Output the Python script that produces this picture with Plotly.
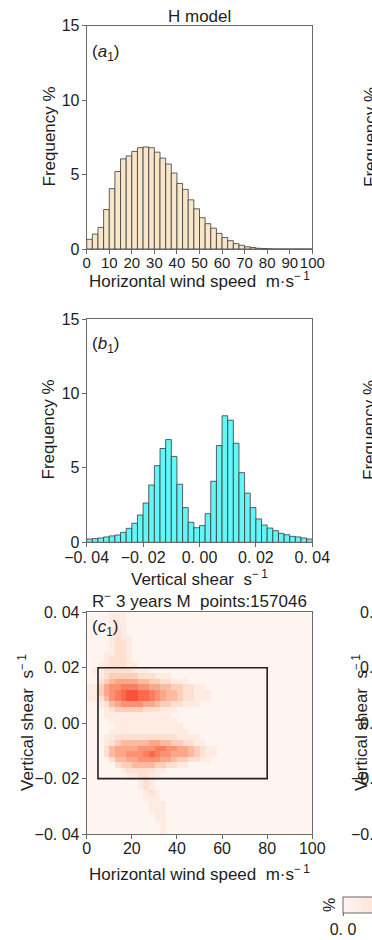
import plotly.graph_objects as go

W, H = 372, 940

# ---------------- data ----------------
# (a1) horizontal wind speed histogram, 40 bins of 2.5 m/s from 0 to 100
A_BIN_WIDTH = 2.5
A_FREQ = [0.65, 1.0, 1.45, 2.65, 4.05, 5.2, 6.05, 6.25, 6.55, 6.8,
          6.85, 6.8, 6.5, 6.1, 5.7, 5.1, 4.4, 4.0, 3.3, 2.7,
          2.1, 1.7, 1.4, 1.05, 0.77, 0.56, 0.36, 0.25, 0.15, 0.1,
          0.05, 0.03, 0.01, 0.0, 0.0, 0.0, 0.0, 0.0, 0.0, 0.0]
A_XTICKS = [0, 10, 20, 30, 40, 50, 60, 70, 80, 90, 100]
A_YTICKS = [0, 5, 10, 15]

# (b1) vertical shear histogram, 40 bins of 0.002 s^-1 from -0.04 to 0.04
B_BIN_WIDTH = 0.002
B_FREQ = [0.22, 0.25, 0.29, 0.36, 0.43, 0.49, 0.67, 0.94, 1.28, 1.83,
          2.64, 3.85, 5.15, 6.3, 6.9, 5.77, 3.9, 2.33, 1.34, 0.98,
          1.12, 1.92, 4.1, 6.5, 8.5, 8.2, 6.65, 4.68, 3.3, 2.33,
          1.57, 1.16, 0.96, 0.78, 0.6, 0.51, 0.4, 0.36, 0.29, 0.22]
B_XTICKS = [-0.04, -0.02, 0.0, 0.02, 0.04]
B_XTICKTEXT = ["\u22120. 04", "\u22120. 02", "0. 00", "0. 02", "0. 04"]

# (c1) joint frequency, 40 x 40 grid (x: 2.5 m/s bins, y: 0.002 s^-1 bins)
C_ROWS = [
    "0000111000000000000000000000000000000000",
    "0000111000000000000000000000000000000000",
    "0000111000000000000000000000000000000000",
    "0000121000000000000000000000000000000000",
    "0000121100000000000000000000000000000000",
    "0000122100000000000000000000000000000000",
    "0000122100000000000000000000000000000000",
    "0001122100000000000000000000000000000000",
    "0001222100000000000000000000000000000000",
    "0011222110000000000000000000000000000000",
    "0112222211100000000000000000000000000000",
    "0012333332221110000000000000000000000000",
    "0023455554433221110000000000000000000000",
    "1135667776655443322110000000000000000000",
    "1135678998876544322111000000000000000000",
    "1124678998876544322111000000000000000000",
    "0012456666554332211100000000000000000000",
    "0001233333222111000000000000000000000000",
    "0001111111111110000000000000000000000000",
    "0000111111111111000000000000000000000000",
    "0000011111111111100000000000000000000000",
    "0000111111111111110000000000000000000000",
    "0001122222222222111100000000000000000000",
    "0001234444455443322110000000000000000000",
    "0002455556667766554321100000000000000000",
    "0002455666787665554321100000000000000000",
    "0000244556666554332211000000000000000000",
    "0000023344443322110000000000000000000000",
    "0000001222221100000000000000000000000000",
    "0000000112211000000000000000000000000000",
    "0000000001210000000000000000000000000000",
    "0000000001210000000000000000000000000000",
    "0000000000121000000000000000000000000000",
    "0000000000111000000000000000000000000000",
    "0000000000011100000000000000000000000000",
    "0000000000011100000000000000000000000000",
    "0000000000001100000000000000000000000000",
    "0000000000001100000000000000000000000000",
    "0000000000000100000000000000000000000000",
    "0000000000000100000000000000000000000000",
]
C_XTICKS = [0, 20, 40, 60, 80, 100]
C_YTICKS = [-0.04, -0.02, 0.0, 0.02, 0.04]
C_YTICKTEXT = ["\u22120. 04", "\u22120. 02", "0. 00", "0. 02", "0. 04"]
C_BOX = [5, 80, -0.02, 0.02]  # x0, x1, y0, y1 of the outlined region
C_TITLE = "R<sup>\u2212</sup> 3 years M\u00a0\u00a0points:157046"

# ---------------- derived grids ----------------
N = 40
a_centers = [A_BIN_WIDTH * (i + 0.5) for i in range(N)]
b_centers = [-0.04 + B_BIN_WIDTH * (i + 0.5) for i in range(N)]
c_x = [2.5 * (i + 0.5) for i in range(N)]
c_y = [-0.04 + 0.002 * (j + 0.5) for j in range(N)]
c_z = [[int(ch) for ch in row.ljust(N, "0")[:N]] for row in reversed(C_ROWS)]

# ---------------- style ----------------
FONT = "Liberation Sans, Arial, sans-serif"
TXT = "#1e1e1e"
FRAME = "#6a6a6a"
EDGE = "#3a3a3a"
A_COLOR = "#f8e6c8"
B_COLOR = "#62f6f6"
REDS = [[0.0, "#fff5f0"], [0.125, "#fee0d2"], [0.25, "#fcbba1"], [0.375, "#fc9272"],
        [0.5, "#fb6a4a"], [0.625, "#ef3b2c"], [0.75, "#cb181d"], [0.875, "#a50f15"],
        [1.0, "#67000d"]]
FS = 17
TFS = 16


def fx(p):
    return p / W


def fy(p):
    return 1 - p / H


fig = go.Figure()
fig.add_trace(go.Bar(x=a_centers, y=A_FREQ, width=A_BIN_WIDTH,
                     marker=dict(color=A_COLOR, line=dict(color=EDGE, width=0.8)),
                     xaxis="x", yaxis="y", showlegend=False, hoverinfo="skip"))
fig.add_trace(go.Bar(x=b_centers, y=B_FREQ, width=B_BIN_WIDTH,
                     marker=dict(color=B_COLOR, line=dict(color=EDGE, width=0.8)),
                     xaxis="x2", yaxis="y2", showlegend=False, hoverinfo="skip"))
fig.add_trace(go.Heatmap(
    x=c_x, y=c_y, z=c_z, colorscale=REDS, zmin=0, zmax=16,
    xaxis="x3", yaxis="y3", hoverinfo="skip",
    colorbar=dict(orientation="h", x=fx(343), xanchor="left", y=fy(897), yanchor="top",
                  thickness=16, thicknessmode="pixels", len=300, lenmode="pixels",
                  xpad=0, ypad=0, outlinecolor=FRAME, outlinewidth=1,
                  tickvals=[0], ticktext=["0. 0"], ticks="outside", ticklen=3,
                  tickcolor=FRAME, tickfont=dict(size=TFS, color=TXT, family=FONT)),
))

common = dict(showline=True, mirror=True, linecolor=FRAME, linewidth=1,
              ticks="outside", ticklen=4, tickcolor=FRAME, tickwidth=1,
              showgrid=False, zeroline=False, fixedrange=True, tickangle=0,
              tickfont=dict(size=TFS, color=TXT, family=FONT))
xcommon = dict(common, ticklabelstandoff=-4)
ycommon = dict(common, ticklabelstandoff=-1)
xcommon_a = dict(xcommon, tickfont=dict(size=15, color=TXT, family=FONT))

XD = [fx(86.7), fx(312.3)]
fig.update_layout(
    width=W, height=H,
    margin=dict(l=0, r=0, t=0, b=0, autoexpand=False),
    paper_bgcolor="white", plot_bgcolor="white",
    font=dict(family=FONT, size=FS, color=TXT),
    barmode="overlay", showlegend=False,
    xaxis=dict(domain=XD, range=[0, 100], tickvals=A_XTICKS,
               ticktext=[str(v) for v in A_XTICKS], anchor="y", **xcommon_a),
    yaxis=dict(domain=[fy(249), fy(25.5)], range=[0, 15], tickvals=A_YTICKS,
               ticktext=[str(v) for v in A_YTICKS], anchor="x", **ycommon),
    xaxis2=dict(domain=XD, range=[-0.04, 0.04], tickvals=B_XTICKS,
                ticktext=B_XTICKTEXT, anchor="y2", **xcommon),
    yaxis2=dict(domain=[fy(542.3), fy(319)], range=[0, 15], tickvals=A_YTICKS,
                ticktext=[str(v) for v in A_YTICKS], anchor="x2", **ycommon),
    xaxis3=dict(domain=XD, range=[0, 100], tickvals=C_XTICKS,
                ticktext=[str(v) for v in C_XTICKS], anchor="y3", **xcommon),
    yaxis3=dict(domain=[fy(834), fy(612.3)], range=[-0.04, 0.04], tickvals=C_YTICKS,
                ticktext=C_YTICKTEXT, anchor="x3", **ycommon),
)

fig.add_shape(type="rect", xref="x3", yref="y3",
              x0=C_BOX[0], x1=C_BOX[1], y0=C_BOX[2], y1=C_BOX[3],
              line=dict(color="#222222", width=1.6), fillcolor="rgba(0,0,0,0)")

HWS = "Horizontal wind speed\u00a0\u00a0m\u00b7s<sup>\u2212\u20091</sup>"
VS = "Vertical shear\u00a0\u00a0s<sup>\u2212\u20091</sup>"


def ann(text, x, y, angle=0, xanchor="center", size=FS):
    fig.add_annotation(text=text, x=fx(x), y=fy(y), xref="paper", yref="paper",
                       showarrow=False, textangle=angle, xanchor=xanchor,
                       yanchor="middle", font=dict(size=size, color=TXT, family=FONT))


ann("H model", 199.5, 16, size=17)
ann("(<i>a</i><sub>1</sub>)", 90, 53, xanchor="left", size=17)
ann("Frequency %", 48.5, 137, angle=-90)
ann(HWS, 199.5, 280)

ann("(<i>b</i><sub>1</sub>)", 90, 345, xanchor="left", size=17)
ann("Frequency %", 48.5, 430, angle=-90)
ann(VS, 199.5, 578)

ann(C_TITLE, 199.5, 600)
ann("(<i>c</i><sub>1</sub>)", 90, 628, xanchor="left", size=17)
ann(VS, 26, 723, angle=-90)
ann(HWS, 199.5, 873)
ann("%", 329, 905, angle=-90, size=16)

# partially visible labels of the neighbouring column (cut by the right edge)
ann("Frequency %", 370, 137, angle=-90)
ann("Frequency %", 370, 430, angle=-90)
ann(VS, 360, 723, angle=-90)
for yv, t in zip([612.3, 667.7, 723, 778.6, 834], ["0. 04", "0. 02", "0. 00", "\u22120. 02", "\u22120. 04"]):
    ann(t, 398, yv, xanchor="right", size=TFS)

fig.write_html("out.html")
